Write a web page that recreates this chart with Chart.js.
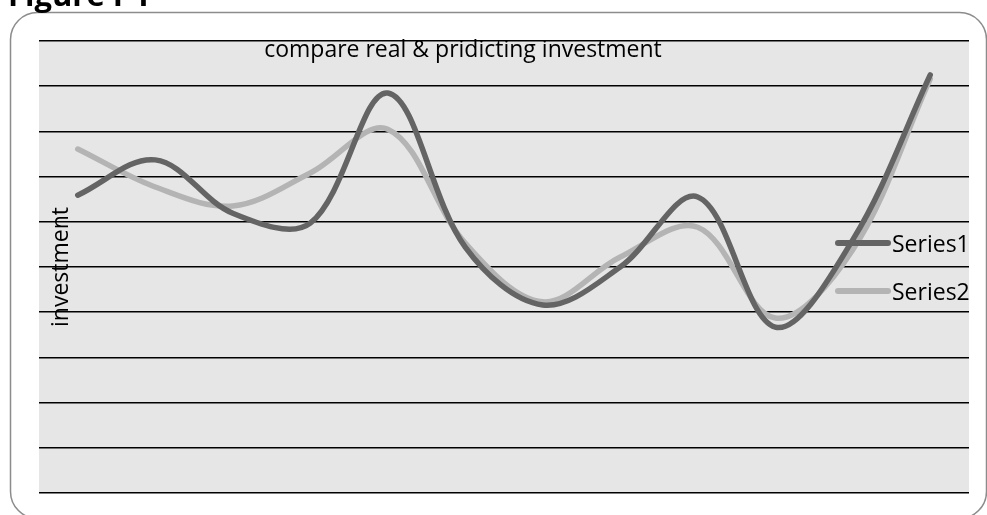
<!DOCTYPE html>
<html>
<head>
<meta charset="utf-8">
<script src="https://cdn.jsdelivr.net/npm/chart.js@4/dist/chart.umd.min.js"></script>
<style>
  html, body { margin: 0; padding: 0; background: #fff; overflow: hidden; }
  #wrap { position: relative; width: 987px; height: 515px; }
</style>
</head>
<body>
<div id="wrap"><canvas id="myChart" width="987" height="515"></canvas></div>
<script>
const labels = ["1", "2", "3", "4", "5", "6", "7", "8", "9", "10", "11", "12"];
const series1 = [65.9, 73.7, 61.9, 59.7, 88.5, 54.4, 41.6, 50.0, 65.5, 36.7, 56.0, 92.5];
const series2 = [76.1, 67.7, 63.5, 70.8, 80.5, 55.3, 42.3, 52.2, 58.8, 38.7, 53.8, 91.6];
const seriesNames = ["Series1", "Series2"];
const titleText = "compare real & pridicting investment";
const yTitle = "investment";
const figureText = "Figure I-1";

const colors = ["#646464", "#b4b4b4"];
const font = "'Open Sans', sans-serif";

// frame, plot background and text drawn on top of chart.js
const decor = {
  id: "decor",
  beforeDraw: (chart) => {
    const { ctx, chartArea: a } = chart;
    ctx.save();
    ctx.strokeStyle = "#8c8c8c";
    ctx.lineWidth = 1.5;
    ctx.beginPath();
    ctx.roundRect(10.5, 12.5, 976, 506, 27);
    ctx.stroke();
    ctx.fillStyle = "#e6e6e6";
    ctx.fillRect(a.left, a.top, a.right - a.left, a.bottom - a.top);
    ctx.fillStyle = "#000";
    ctx.font = "bold 31px " + font;
    ctx.textBaseline = "alphabetic";
    ctx.fillText(figureText, 8, 6);
    ctx.restore();
  },
  afterDatasetsDraw: (chart) => {
    const { ctx } = chart;
    ctx.save();
    ctx.fillStyle = "#000";
    ctx.font = "23px " + font;
    ctx.textAlign = "center";
    ctx.textBaseline = "alphabetic";
    ctx.fillText(titleText, 463, 57);

    ctx.save();
    ctx.translate(68, 267);
    ctx.rotate(-Math.PI / 2);
    ctx.fillText(yTitle, 0, 0);
    ctx.restore();

    ctx.textAlign = "left";
    ctx.lineCap = "round";
    ctx.lineWidth = 6;
    seriesNames.forEach((name, i) => {
      const y = 243 + i * 48;
      ctx.strokeStyle = colors[i];
      ctx.beginPath();
      ctx.moveTo(838, y);
      ctx.lineTo(888, y);
      ctx.stroke();
      ctx.fillText(name, 892, y + 9);
    });
    ctx.restore();
  },
};

const data = {
  labels: [...labels],
  datasets: [
    { label: seriesNames[0], data: [...series1], borderColor: colors[0] },
    { label: seriesNames[1], data: [...series2], borderColor: colors[1] },
  ],
};

const options = {
  responsive: false,
  animation: false,
  layout: { padding: { left: 39, right: 18, top: 41, bottom: 22 } },
  elements: {
    line: { borderWidth: 5.5, tension: 0.35, borderCapStyle: "round", borderJoinStyle: "round", fill: false },
    point: { radius: 0 },
  },
  plugins: {
    legend: { display: false },
    title: { display: false },
    tooltip: { enabled: false },
  },
  scales: {
    x: { display: false, offset: true },
    y: {
      min: 0,
      max: 100,
      ticks: { display: false, stepSize: 10 },
      grid: { color: "#000", lineWidth: 1.5, drawTicks: false },
      border: { display: false },
      afterFit: (scale) => { scale.width = 0; },
    },
  },
};

new Chart("myChart", {
  type: "line",
  data,
  options: options,
  plugins: [decor],
});
</script>
</body>
</html>
